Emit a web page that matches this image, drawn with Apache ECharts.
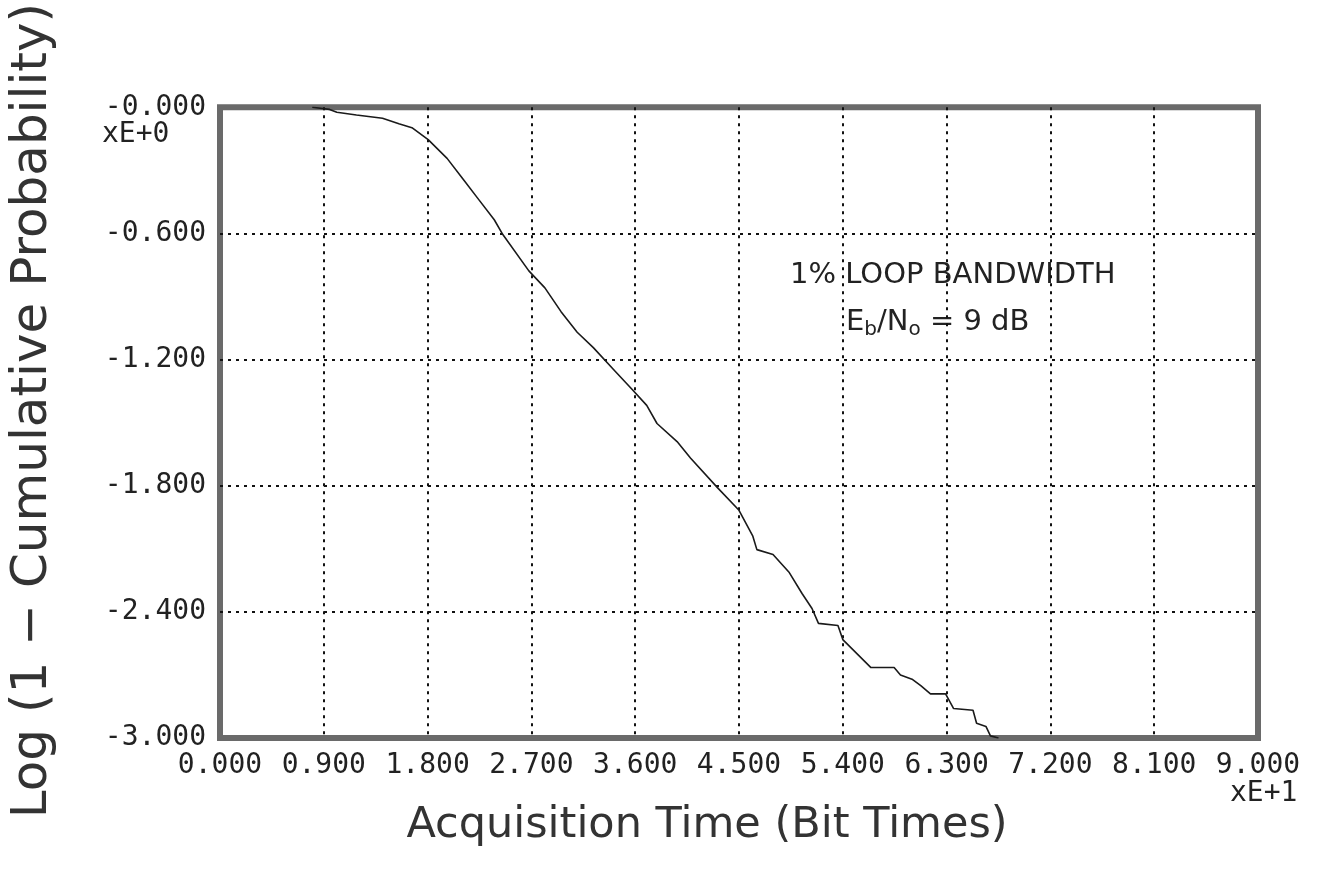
<!DOCTYPE html>
<html>
<head>
<meta charset="utf-8">
<script src="https://cdn.jsdelivr.net/npm/echarts@6/dist/echarts.min.js"></script>
<style>
html,body{margin:0;padding:0;background:#fff;}
#chart{width:1320px;height:877px;}
</style>
</head>
<body>
<div id="chart"></div>
<script>
// ---- data (x in units of xE+1 bit times, y = log10(1 - cumulative probability)) ----
var acqTime = [0.80, 0.95, 1.013, 1.183, 1.409, 1.551, 1.664, 1.805, 1.969, 2.105, 2.242, 2.378, 2.446,
  2.678, 2.817, 2.957, 3.097, 3.237, 3.42, 3.57, 3.70, 3.789, 3.963, 4.079, 4.311, 4.50, 4.62, 4.655,
  4.795, 4.936, 5.048, 5.133, 5.189, 5.358, 5.40, 5.644, 5.845, 5.90, 6.00, 6.076, 6.16, 6.291, 6.361,
  6.529, 6.56, 6.641, 6.68, 6.75];
var logProb = [0.000, -0.010, -0.024, -0.037, -0.052, -0.078, -0.097, -0.154, -0.243, -0.340, -0.438, -0.535, -0.600,
  -0.778, -0.859, -0.972, -1.070, -1.143, -1.252, -1.340, -1.418, -1.504, -1.590, -1.668, -1.808, -1.917, -2.040, -2.104,
  -2.127, -2.213, -2.314, -2.384, -2.455, -2.465, -2.532, -2.665, -2.665, -2.700, -2.720, -2.751, -2.790, -2.790, -2.860,
  -2.868, -2.930, -2.945, -2.990, -3.000];

var xTickLabels = ['0.000','0.900','1.800','2.700','3.600','4.500','5.400','6.300','7.200','8.100','9.000'];
var yTickLabels = ['-0.000','-0.600','-1.200','-1.800','-2.400','-3.000'];

var xTitle = 'Acquisition Time (Bit Times)';
var yTitle = 'Log (1 \u2212 Cumulative Probability)';
var annoLine1 = '1% LOOP BANDWIDTH';
var xExp = 'xE+1';
var yExp = 'xE+0';

var seriesData = acqTime.map(function (x, i) { return [x, logProb[i]]; });

var chart = echarts.init(document.getElementById('chart'), null, {renderer: 'canvas'});
var monoFont = '"DejaVu Sans Mono", monospace';
var sansFont = '"DejaVu Sans", sans-serif';

chart.setOption({
  backgroundColor: '#ffffff',
  animation: false,
  grid: {
    left: 200, top: 103, right: 62, bottom: 139,
    show: true, borderColor: '#6a6a6a', borderWidth: 6, backgroundColor: 'transparent'
  },
  xAxis: {
    type: 'value', min: 0, max: 9, interval: 0.9,
    axisLine: {show: false}, axisTick: {show: false},
    axisLabel: {
      margin: 14, color: '#222', fontFamily: monoFont, fontSize: 28,
      formatter: function (v) { return xTickLabels[Math.round(v / 0.9)]; }
    },
    splitLine: {show: true, showMinLine: false, showMaxLine: false,
      lineStyle: {color: '#111', width: 2, type: [3, 5]}},
    name: xTitle, nameLocation: 'middle', nameGap: 66,
    nameTextStyle: {fontFamily: sansFont, fontSize: 43, color: '#333', padding: [0, 64, 0, 0]}
  },
  yAxis: {
    type: 'value', min: -3, max: 0, interval: 0.6,
    axisLine: {show: false}, axisTick: {show: false},
    axisLabel: {
      margin: 14, color: '#222', fontFamily: monoFont, fontSize: 28,
      formatter: function (v) { return yTickLabels[Math.round(-v / 0.6)]; }
    },
    splitLine: {show: true, showMinLine: false, showMaxLine: false,
      lineStyle: {color: '#111', width: 2, type: [3, 5]}},
    name: yTitle, nameLocation: 'middle', nameGap: 162, nameRotate: 90,
    nameTextStyle: {fontFamily: sansFont, fontSize: 50, color: '#333', padding: [0, 0, 0, 24]}
  },
  graphic: [
    {type: 'text', left: 102, top: 121, style: {text: yExp, font: '28px "DejaVu Sans Mono", monospace', fill: '#222'}},
    {type: 'text', left: 1230, top: 780, style: {text: xExp, font: '28px "DejaVu Sans Mono", monospace', fill: '#222'}},
    {type: 'text', left: 790, top: 261, style: {text: annoLine1, font: '29px "DejaVu Sans", sans-serif', fill: '#222'}},
    {type: 'text', left: 846, top: 308, style: {
      rich: {
        n: {fontFamily: sansFont, fontSize: 29, fill: '#222'},
        s: {fontFamily: sansFont, fontSize: 20, fill: '#222', padding: [14, 0, 0, 0]}
      },
      text: '{n|E}{s|b}{n|/N}{s|o}{n| = 9 dB}'
    }}
  ],
  series: [{
    type: 'line', data: seriesData, showSymbol: false, clip: true,
    lineStyle: {color: '#1a1a1a', width: 1.6}, z: 3
  }]
});
</script>
</body>
</html>
